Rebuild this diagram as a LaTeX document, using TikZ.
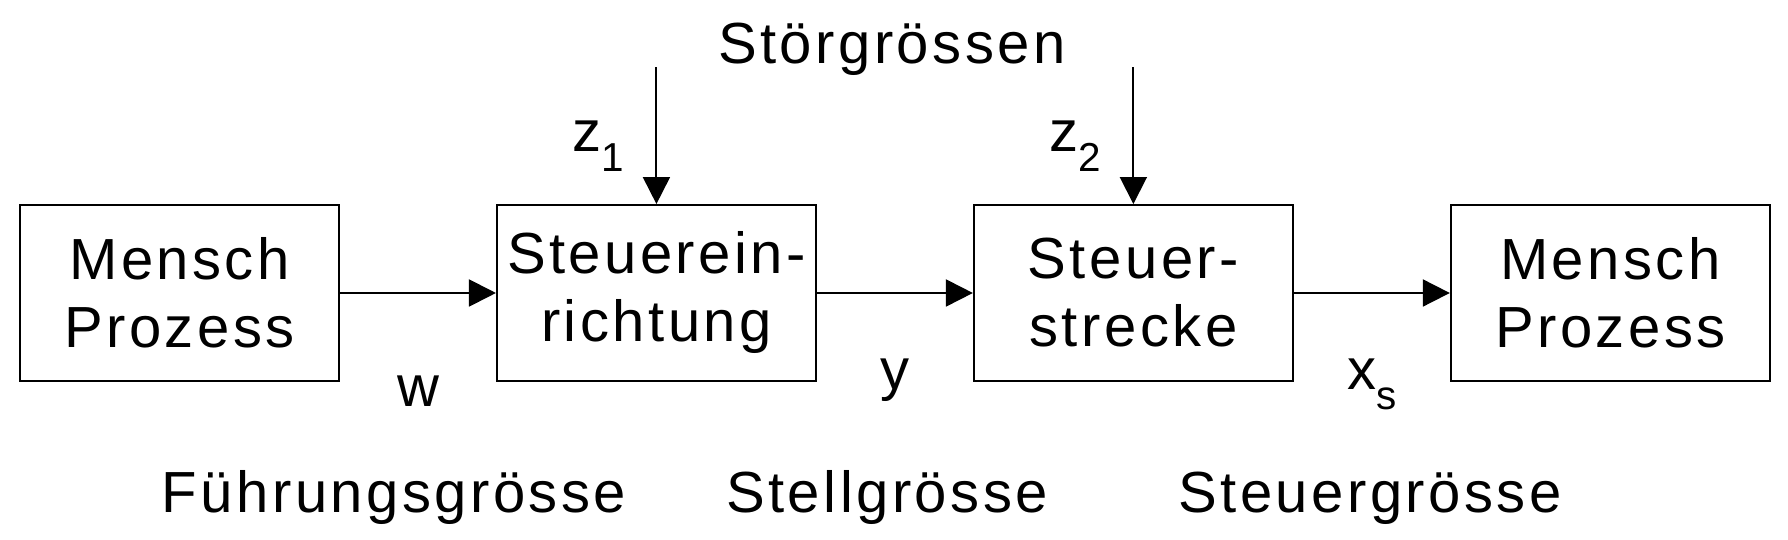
\documentclass[tikz,border=0pt]{standalone}
\usepackage{fontspec}
\setmainfont{Liberation Sans}[LetterSpace=6]
\usetikzlibrary{arrows.meta,positioning,calc}
\newcommand{\bigtxt}{\fontsize{33}{38.7}\selectfont}
\newcommand{\lowidx}[1]{\raisebox{-0.4cm}{\fontsize{23}{23}\selectfont #1}}
\tikzset{
  bd/block/.style={draw, line width=1.1pt, minimum width=6.38cm, minimum height=3.52cm, inner sep=0pt, align=center, font=\bigtxt},
  bd/line/.style={line width=1.1pt, -{Triangle[length=5.4mm, width=5.4mm]}},
  bd/sig/.style={inner sep=0pt, anchor=base, font=\bigtxt},
  bd/name/.style={inner sep=0pt, anchor=base, font=\bigtxt}
}

\begin{document}
\begin{tikzpicture}[node distance=8mm and 3.12cm]
  \useasboundingbox (0,0) rectangle (35.76,10.8);

  \node[bd/block] (mp1) at (3.59,4.94) {Mensch\\Prozess};
  \node[bd/block, right=of mp1] (ser) {Steuerein-\\richtung};
  \node[bd/block, right=of ser] (str) {Steuer-\\strecke};
  \node[bd/block, right=of str] (mp2) {Mensch\\Prozess};

  \coordinate[above=2.74cm of ser.north] (z1top);
  \coordinate[above=2.74cm of str.north] (z2top);

  \draw[bd/line] (mp1) -- (ser);
  \draw[bd/line] (ser) -- (str);
  \draw[bd/line] (str) -- (mp2);
  \draw[bd/line] (z1top) -- (ser);
  \draw[bd/line] (z2top) -- (str);

  \node[bd/sig] (w) at ($(mp1.east)!0.5!(ser.west)+(0,-2.28)$) {w};
  \node[bd/sig] (y) at ($(ser.east)!0.5!(str.west)+(0,-1.94)$) {y};
  \node[bd/sig] (xs) at ($(str.east)!0.5!(mp2.west)+(0,-1.94)$) {x\lowidx{s}};
  \node[bd/sig] (z1) at ($(ser.north)+(-1.17,1.06)$) {z\lowidx{1}};
  \node[bd/sig] (z2) at ($(str.north)+(-1.17,1.06)$) {z\lowidx{2}};

  \node[bd/name] (stoer) at ($(z1top)!0.5!(z2top)+(-0.06,0.08)$) {Störgrössen};
  \node[bd/name] (fuehr) at (7.88,0.54) {Führungsgrösse};
  \node[bd/name] (stell) at (17.74,0.54) {Stellgrösse};
  \node[bd/name] (steuer) at (27.40,0.54) {Steuergrösse};
\end{tikzpicture}
\end{document}
